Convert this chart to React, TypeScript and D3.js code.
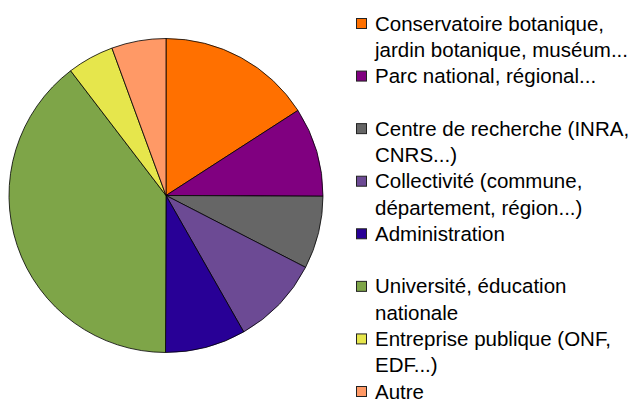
import React from "react";
import * as d3 from "d3";

const categories = [
  ["Conservatoire botanique,", "jardin botanique, muséum..."],
  ["Parc national, régional..."],
  ["Centre de recherche (INRA,", "CNRS...)"],
  ["Collectivité (commune,", "département, région...)"],
  ["Administration"],
  ["Université, éducation", "nationale"],
  ["Entreprise publique (ONF,", "EDF...)"],
  ["Autre"],
];
const values = [15.9, 9.2, 7.5, 9.2, 8.3, 39.6, 4.8, 5.6];
const colors = ["#ff7000", "#800080", "#666666", "#6c4a94", "#280096", "#7ea548", "#e6e64c", "#ff9966"];

const W = 630;
const H = 401;
const cx = 166;
const cy = 195.5;
const R = 157;

export default function App() {
  const pie = d3.pie<number>().sort(null).value((d) => d)(values);
  const arc = d3.arc<d3.PieArcDatum<number>>().innerRadius(0).outerRadius(R);
  const legendY = d3
    .scalePoint<number>()
    .domain(d3.range(categories.length))
    .range([18, 386]);
  return (
    <svg
      width={W}
      height={H}
      style={{ position: "absolute", left: 0, top: 0, background: "#fff" }}
      fontFamily="'Liberation Sans', Arial, sans-serif"
    >
      <g transform={`translate(${cx},${cy})`}>
        {pie.map((p, i) => (
          <path key={i} d={arc(p) || ""} fill={colors[i]} stroke="#000" strokeWidth={0.8} />
        ))}
      </g>
      {categories.map((lines, i) => {
        const y = legendY(i) as number;
        return (
          <g key={i}>
            <rect x={356.5} y={y + 0.5} width={10} height={10} fill={colors[i]} stroke="#222" strokeWidth={1} />
            <text x={375} y={y + 12.5} fontSize={20.5} fill="#000">
              {lines.map((l, j) => (
                <tspan key={j} x={375} dy={j === 0 ? 0 : 26.5}>
                  {l}
                </tspan>
              ))}
            </text>
          </g>
        );
      })}
    </svg>
  );
}
